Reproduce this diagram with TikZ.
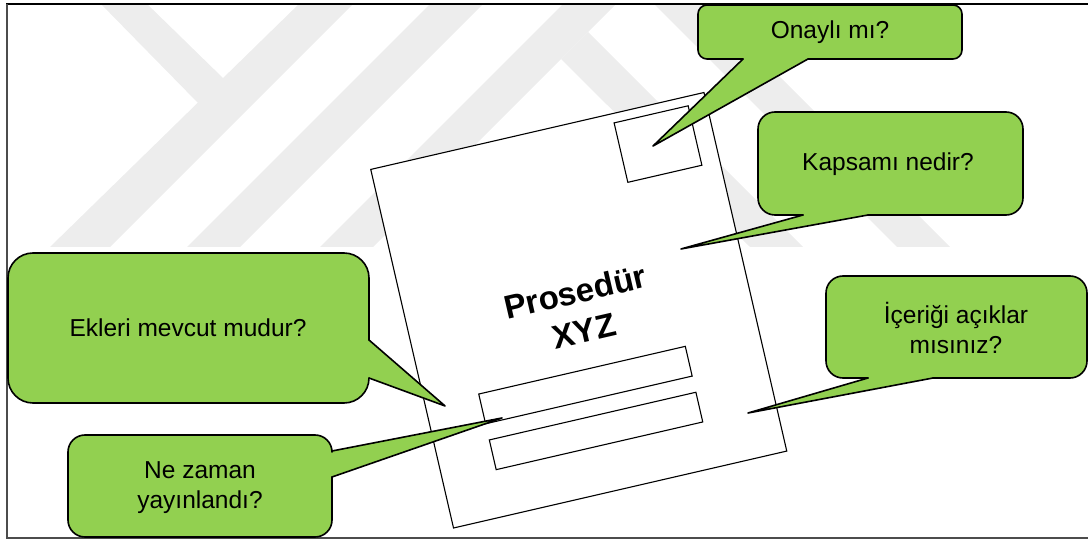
\documentclass[tikz,border=0pt]{standalone}
\usepackage{fontspec}
\setmainfont{Liberation Sans}
\usetikzlibrary{positioning}
\definecolor{bubblegreen}{HTML}{92D050}
\definecolor{wmgray}{HTML}{EDEDED}

\tikzset{
  qtext/.style={align=center, inner sep=0pt, font=\fontsize{24.5}{30}\selectfont},
  doctitle/.style={align=center, inner sep=0pt, font=\fontsize{33}{39.5}\selectfont\bfseries},
  pagebox/.style={draw=black, line width=1.1pt, fill=white, inner sep=0pt, outer sep=0pt},
  bubblefill/.style={fill=bubblegreen},
  bubbleline/.style={draw=black, line width=1.6pt, line cap=round, line join=round},
}

% bubble with the pointer leaving the bottom edge: x1 y1 x2 y2 base1 base2 tip radius
\newcommand{\bubbledown}[8]{%
  \fill[bubblefill, rounded corners=#8] (#1,#2) rectangle (#3,#4);
  \fill[bubblefill] (#5,#4-6) -- (#5,#4) -- (#7) -- (#6,#4) -- (#6,#4-6) -- cycle;
  \draw[bubbleline, rounded corners=#8] (#6,#4) -- (#3,#4) -- (#3,#2) -- (#1,#2) -- (#1,#4) -- (#5,#4);
  \draw[bubbleline] (#5,#4) -- (#7) -- (#6,#4);
}
% bubble with the pointer leaving the right edge
\newcommand{\bubbleright}[8]{%
  \fill[bubblefill, rounded corners=#8] (#1,#2) rectangle (#3,#4);
  \fill[bubblefill] (#3-6,#5) -- (#3,#5) -- (#7) -- (#3,#6) -- (#3-6,#6) -- cycle;
  \draw[bubbleline, rounded corners=#8] (#3,#6) -- (#3,#4) -- (#1,#4) -- (#1,#2) -- (#3,#2) -- (#3,#5);
  \draw[bubbleline] (#3,#5) -- (#7) -- (#3,#6);
}

\begin{document}
\begin{tikzpicture}[x=1pt, y=-1pt]
\useasboundingbox (0,0) rectangle (1088,540);

% watermark
\begin{scope}
  \clip (8,5) rectangle (1088,247);
  \fill[wmgray] (97,0) -- (143,0) -- (224,79) -- (199,104) -- cycle;
  \fill[wmgray] (50,247) -- (110,247) -- (357,0) -- (303,0) -- cycle;
  \fill[wmgray] (187,247) -- (240,247) -- (487,0) -- (434,0) -- cycle;
  \fill[wmgray] (320,247) -- (373,247) -- (620,0) -- (567,0) -- cycle;
  \fill[wmgray] (561,59) -- (588,32) -- (803,247) -- (750,247) -- cycle;
  \fill[wmgray] (650,0) -- (703,0) -- (950,247) -- (897,247) -- cycle;
\end{scope}

% frame
\draw[line width=2pt] (6,4) -- (1088,4);
\draw[line width=2pt, black!70] (7,4) -- (7,538) -- (1088,538);

% document
\begin{scope}[shift={(578.75,310.25)}, rotate=13, transform shape]
  \node[pagebox, minimum width=342pt, minimum height=368pt] (page) at (0,0) {};
  \node[pagebox, minimum width=76pt, minimum height=61pt] (stamp) at (114.6,-144.1) {};
  \node[pagebox, minimum width=212pt, minimum height=30.5pt] (field1) at (-10.3,74.4) {};
  \node[pagebox, minimum width=212pt, minimum height=30.5pt] (field2) at (-10.3,121.5) {};
  \node[doctitle] (title) at (0.5,0.8) {Prosedür\\XYZ};
  \coordinate (onaytip) at (109.3,-143.3);
  \coordinate (kapsamtip) at (113.4,-36.7);
  \coordinate (iceriktip) at (141.8,138.2);
  \coordinate (eklertip) at (-151.8,63.2);
  \coordinate (yayintip) at (-99,87.7);
\end{scope}

% questions
\bubbledown{698}{5}{962}{59}{743}{808}{onaytip}{9pt}
\node[qtext] (onay) at (830,32) {Onaylı mı?};

\bubbledown{758}{112}{1023}{215}{803}{868}{kapsamtip}{17pt}
\node[qtext] (kapsam) at (888,164) {Kapsamı nedir?};

\bubbledown{826}{276}{1087}{378}{868}{933}{iceriktip}{17pt}
\node[qtext] (icerik) at (956,328) {İçeriği açıklar\\mısınız?};

\bubbleright{8}{253}{369}{403}{340}{378}{eklertip}{25pt}
\node[qtext] (ekler) at (188,328) {Ekleri mevcut mudur?};

\bubbleright{68}{435}{332}{537}{451}{477}{yayintip}{17pt}
\node[qtext] (yayin) at (200,488) {Ne zaman\\yayınlandı?};
\end{tikzpicture}
\end{document}
